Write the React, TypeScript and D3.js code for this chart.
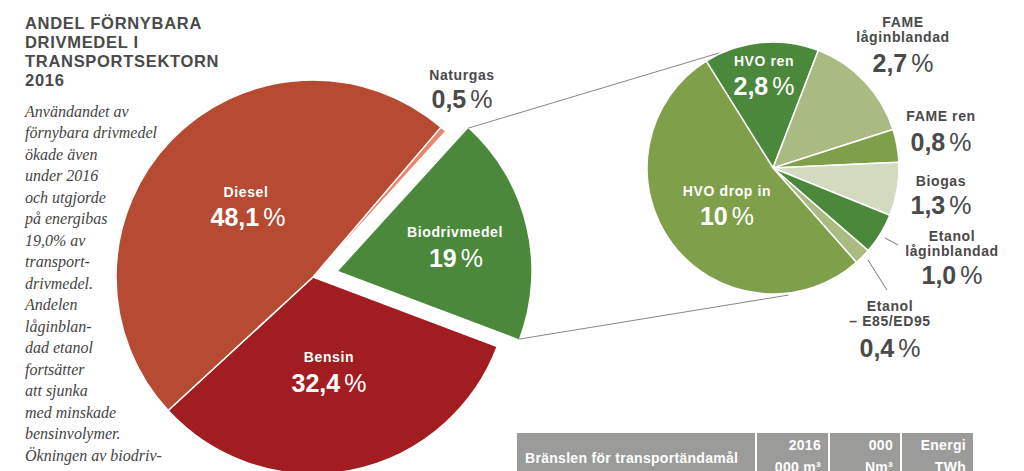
import React from "react";
import * as d3 from "d3";

// ---- data ----
const mainCategories = ["Naturgas", "Biodrivmedel", "Bensin", "Diesel"];
const mainValues = [0.5, 19.0, 32.4, 48.1];
const mainColors = ["#e8866e", "#4b883c", "#a21d21", "#b64a33"];

const bioCategories = [
  "HVO ren",
  "FAME låginblandad",
  "FAME ren",
  "Biogas",
  "Etanol låginblandad",
  "Etanol – E85/ED95",
  "HVO drop in",
];
const bioValues = [2.8, 2.7, 0.8, 1.3, 1.0, 0.4, 10.0];
const bioColors = ["#4b883c", "#a9bb82", "#7f9f4a", "#d2dbc0", "#4b883c", "#a9bb82", "#7f9f4a"];

const titleLines = ["ANDEL FÖRNYBARA", "DRIVMEDEL I", "TRANSPORTSEKTORN", "2016"];
const bodyLines = [
  "Användandet av",
  "förnybara drivmedel",
  "ökade även",
  "under 2016",
  "och utgjorde",
  "på energibas",
  "19,0% av",
  "transport-",
  "drivmedel.",
  "Andelen",
  "låginblan-",
  "dad etanol",
  "fortsätter",
  "att sjunka",
  "med minskade",
  "bensinvolymer.",
  "Ökningen av biodriv-",
];
const tableHeaders = [
  ["Bränslen för transportändamål"],
  ["2016", "000 m³"],
  ["000", "Nm³"],
  ["Energi", "TWh"],
];

const SANS = "'Liberation Sans', Arial, Helvetica, sans-serif";
const SERIF = "'Liberation Serif', 'DejaVu Serif', serif";
const DARK = "#4a4a4a";
const deg = Math.PI / 180;

function Pct({ v, x, y, size, fill }: { v: string; x: number; y: number; size: number; fill: string }) {
  return (
    <text x={x} y={y} textAnchor="middle" fontFamily={SANS} fontWeight="bold" fontSize={size} fill={fill}>
      {v}
      <tspan fontWeight="normal" dx={4}>%</tspan>
    </text>
  );
}

function Lbl({ lines, x, y, fill, size = 14 }: { lines: string[]; x: number; y: number; fill: string; size?: number }) {
  return (
    <text x={x} y={y} textAnchor="middle" fontFamily={SANS} fontWeight="bold" fontSize={size} fill={fill} letterSpacing={0.6}>
      {lines.map((l, i) => (
        <tspan key={i} x={x} dy={i === 0 ? 0 : 15}>
          {l}
        </tspan>
      ))}
    </text>
  );
}

export default function App() {
  // main pie
  const mc = { x: 313, y: 277 };
  const mR = 197;
  const mainPie = d3
    .pie<number>()
    .sort(null)
    .value((d) => d)
    .startAngle(40.5 * deg)
    .endAngle(40.5 * deg + 2 * Math.PI)(mainValues);
  const mainArc = d3.arc<d3.PieArcDatum<number>>().innerRadius(0).outerRadius(mR);
  const bioR = 193;
  const bioArc = d3.arc<d3.PieArcDatum<number>>().innerRadius(0).outerRadius(bioR);
  const explode = 26;

  // secondary pie
  const sc = { x: 773, y: 168 };
  const sR = 126;
  const secPie = d3
    .pie<number>()
    .sort(null)
    .value((d) => d)
    .startAngle(-32 * deg)
    .endAngle(-32 * deg + 2 * Math.PI)(bioValues);
  const secArc = d3.arc<d3.PieArcDatum<number>>().innerRadius(0).outerRadius(sR);

  const bio = mainPie[1];
  const mid = (bio.startAngle + bio.endAngle) / 2;
  const ox = explode * Math.sin(mid);
  const oy = -explode * Math.cos(mid);
  const bx = mc.x + ox;
  const by = mc.y + oy;
  const polar = (cx: number, cy: number, r: number, a: number) => [cx + r * Math.sin(a), cy - r * Math.cos(a)];
  const [u1x, u1y] = polar(bx, by, bioR, bio.startAngle);
  const [l1x, l1y] = polar(bx, by, bioR, bio.endAngle);
  const [u2x, u2y] = polar(sc.x, sc.y, 127, -25 * deg);
  const [l2x, l2y] = polar(sc.x, sc.y, 128, 173 * deg);

  const cellX = [517, 757, 830, 902];
  const cellW = [238, 71, 70, 71];

  return (
    <svg width={1024} height={471} style={{ position: "absolute", left: 0, top: 0, background: "#fff" }}>
      {/* title */}
      <text fontFamily={SANS} fontWeight="bold" fontSize={16.5} fill={DARK} letterSpacing={0.7}>
        {titleLines.map((t, i) => (
          <tspan key={i} x={25} y={28.5 + i * 19}>
            {t}
          </tspan>
        ))}
      </text>
      <text fontFamily={SERIF} fontStyle="italic" fontSize={16} fill="#444">
        {bodyLines.map((t, i) => (
          <tspan key={i} x={25} y={116.5 + i * 21.5}>
            {t}
          </tspan>
        ))}
      </text>

      {/* main pie */}
      <g transform={`translate(${mc.x},${mc.y})`}>
        {mainPie.map((d, i) =>
          i === 1 ? null : (
            <path key={i} d={mainArc(d) || ""} fill={mainColors[i]} stroke="#fff" strokeWidth={i === 0 ? 1.2 : 1.5} />
          )
        )}
      </g>
      <g transform={`translate(${bx},${by})`}>
        <path d={bioArc(bio) || ""} fill={mainColors[1]} />
      </g>

      {/* connectors */}
      <line x1={u1x} y1={u1y} x2={u2x} y2={u2y} stroke="#888" strokeWidth={1} />
      <line x1={l1x} y1={l1y} x2={l2x} y2={l2y} stroke="#888" strokeWidth={1} />

      {/* secondary pie */}
      <g transform={`translate(${sc.x},${sc.y})`}>
        {secPie.map((d, i) => (
          <path key={i} d={secArc(d) || ""} fill={bioColors[i]} stroke="#fff" strokeWidth={1.5} strokeLinejoin="round" />
        ))}
      </g>

      {/* leader lines */}
      <line x1={885} y1={238} x2={898} y2={245} stroke="#777" strokeWidth={1} />
      <line x1={868} y1={260} x2={887} y2={290} stroke="#777" strokeWidth={1} />

      {/* main labels */}
      <Lbl lines={["Diesel"]} x={246} y={197} fill="#fff" />
      <Pct v="48,1" x={248} y={226} size={25} fill="#fff" />
      <Lbl lines={["Bensin"]} x={329} y={362} fill="#fff" />
      <Pct v="32,4" x={329} y={392} size={25} fill="#fff" />
      <Lbl lines={["Biodrivmedel"]} x={455} y={237} fill="#fff" />
      <Pct v="19" x={456} y={267} size={25} fill="#fff" />
      <Lbl lines={["Naturgas"]} x={462} y={80} fill={DARK} />
      <Pct v="0,5" x={462} y={108} size={25} fill={DARK} />

      {/* secondary labels */}
      <Lbl lines={["HVO ren"]} x={764} y={66} fill="#fff" />
      <Pct v="2,8" x={764} y={95} size={25} fill="#fff" />
      <Lbl lines={["HVO drop in"]} x={727} y={196} fill="#fff" />
      <Pct v="10" x={727} y={225} size={25} fill="#fff" />
      <Lbl lines={["FAME", "låginblandad"]} x={903} y={27} fill={DARK} />
      <Pct v="2,7" x={903} y={72} size={25} fill={DARK} />
      <Lbl lines={["FAME ren"]} x={941} y={121} fill={DARK} />
      <Pct v="0,8" x={941} y={151} size={25} fill={DARK} />
      <Lbl lines={["Biogas"]} x={941} y={186} fill={DARK} />
      <Pct v="1,3" x={941} y={214} size={25} fill={DARK} />
      <Lbl lines={["Etanol", "låginblandad"]} x={952} y={241} fill={DARK} />
      <Pct v="1,0" x={952} y={284} size={25} fill={DARK} />
      <Lbl lines={["Etanol", "– E85/ED95"]} x={890} y={311} fill={DARK} />
      <Pct v="0,4" x={890} y={357} size={25} fill={DARK} />

      {/* table header */}
      {cellX.map((x, i) => (
        <rect key={i} x={x} y={433} width={cellW[i]} height={50} fill="#9b9b99" />
      ))}
      <text x={525} y={463} fontFamily={SANS} fontWeight="bold" fontSize={14} fill="#fff" letterSpacing={0.3}>
        {tableHeaders[0][0]}
      </text>
      {tableHeaders.slice(1).map((h, i) => (
        <text key={i} textAnchor="end" fontFamily={SANS} fontWeight="bold" fontSize={14} fill="#fff" letterSpacing={0.3}>
          <tspan x={cellX[i + 1] + cellW[i + 1] - 7} y={450}>
            {h[0]}
          </tspan>
          <tspan x={cellX[i + 1] + cellW[i + 1] - 7} y={472}>
            {h[1]}
          </tspan>
        </text>
      ))}
    </svg>
  );
}
